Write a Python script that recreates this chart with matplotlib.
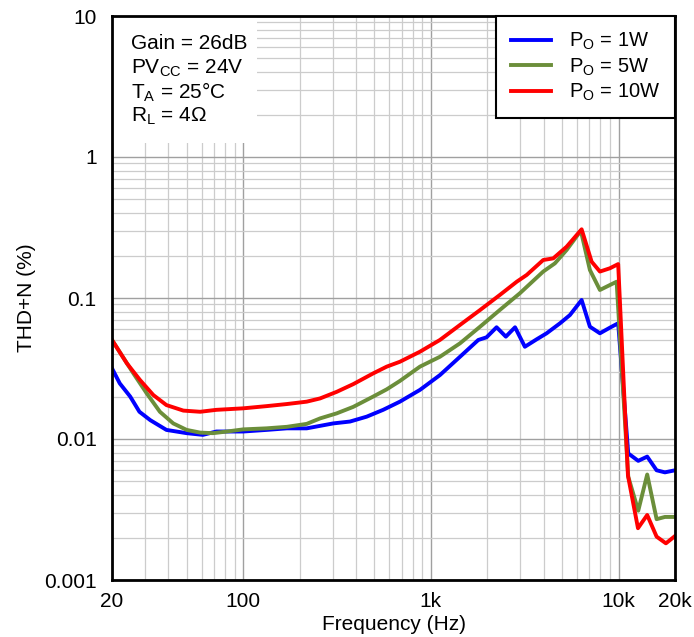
import matplotlib
matplotlib.use('Agg')
import matplotlib.pyplot as plt
import matplotlib.patches as patches

plt.rcParams['font.family'] = ['Liberation Sans', 'DejaVu Sans']
plt.rcParams['mathtext.fontset'] = 'custom'
plt.rcParams['mathtext.rm'] = 'Liberation Sans'

# Po = 1W
f_1w = [20, 22, 25, 28, 32, 39, 50, 61, 72, 100, 133, 171, 218, 302, 371, 455, 557, 684,
        875, 1118, 1430, 1790, 1980, 2240, 2510, 2810, 3170, 3660, 4140, 4880, 5510, 6360,
        7040, 7960, 9000, 9960, 11270, 12740, 14220, 15960, 17670, 20000]
thd_1w = [0.0317, 0.0248, 0.0200, 0.0156, 0.0136, 0.0116, 0.0110, 0.0107, 0.0113, 0.0113,
          0.0116, 0.0119, 0.0119, 0.0129, 0.0133, 0.0144, 0.0161, 0.0184, 0.0223, 0.0284,
          0.0383, 0.0504, 0.0526, 0.0620, 0.0532, 0.0620, 0.0451, 0.0509, 0.0562, 0.0662,
          0.0757, 0.0968, 0.0626, 0.0562, 0.0616, 0.0662, 0.0079, 0.0070, 0.0075, 0.0060,
          0.0058, 0.0060]

# Po = 5W
f_5w = [20, 26, 30.6, 36, 42.4, 50, 59, 69, 82, 100, 133, 171, 218, 257, 315, 386, 493, 582,
        684, 875, 1118, 1430, 1830, 2330, 2980, 3970, 4580, 5290, 6300, 7040, 7960, 9770,
        11270, 12740, 14220, 15960, 17670, 20000]
thd_5w = [0.0504, 0.0292, 0.0211, 0.0156, 0.0129, 0.0116, 0.0111, 0.0110, 0.0113, 0.0117,
          0.0119, 0.0122, 0.0128, 0.0140, 0.0152, 0.0169, 0.0200, 0.0225, 0.0258, 0.0326,
          0.0383, 0.0477, 0.0626, 0.0822, 0.108, 0.154, 0.176, 0.219, 0.300, 0.158, 0.114,
          0.1305, 0.0054, 0.0031, 0.0056, 0.0027, 0.0028, 0.0028]

# Po = 10W
f_10w = [20, 24, 28.2, 33.2, 39, 48, 59, 72, 100, 133, 171, 218, 257, 315, 386, 493, 582, 684,
         875, 1118, 1430, 1830, 2330, 2870, 3240, 3970, 4490, 5290, 6360, 7190, 7960, 9000,
         9960, 11230, 12700, 14220, 15960, 17890, 20000]
thd_10w = [0.0504, 0.0344, 0.0262, 0.0205, 0.0174, 0.0159, 0.0156, 0.0161, 0.0165, 0.0171,
           0.0177, 0.0184, 0.0194, 0.0216, 0.0245, 0.0292, 0.0326, 0.0353, 0.0416, 0.0504,
           0.0644, 0.0822, 0.105, 0.1305, 0.1456, 0.186, 0.191, 0.231, 0.307, 0.181, 0.154,
           0.1625, 0.174, 0.0055, 0.00233, 0.00289, 0.00203, 0.00182, 0.00205]

xticks = [20, 100, 1000, 10000, 20000]
xticklabels = ['20', '100', '1k', '10k', '20k']
yticks = [0.001, 0.01, 0.1, 1, 10]
yticklabels = ['0.001', '0.01', '0.1', '1', '10']

fig = plt.figure(figsize=(6.94, 6.37), dpi=100)
ax = fig.add_axes([112 / 694, 1 - 580 / 637, 563 / 694, 564 / 637])
ax.set_xscale('log')
ax.set_yscale('log')
ax.set_xlim(20, 20000)
ax.set_ylim(0.001, 10)

ax.grid(True, which='major', color='#a0a0a0', lw=1.0)
ax.grid(True, which='minor', color='#cccccc', lw=0.9)
ax.set_axisbelow(True)

# white area behind the conditions text
ax.add_patch(patches.Rectangle((0, 0.775), 0.2575, 0.225, transform=ax.transAxes,
                               facecolor='white', edgecolor='none', zorder=1))

ax.plot(f_1w, thd_1w, color='#0000ff', lw=2.8, label=r'P$_\mathregular{O}$ = 1W', zorder=3)
ax.plot(f_5w, thd_5w, color='#6b8e3a', lw=2.8, label=r'P$_\mathregular{O}$ = 5W', zorder=3)
ax.plot(f_10w, thd_10w, color='#ff0000', lw=2.8, label=r'P$_\mathregular{O}$ = 10W', zorder=3)

ax.set_xticks(xticks)
ax.set_xticklabels(xticklabels)
ax.set_yticks(yticks)
ax.set_yticklabels(yticklabels)
ax.tick_params(which='both', length=0, labelsize=15)
ax.tick_params(axis='x', pad=8.5)
ax.tick_params(axis='y', pad=11)
for s in ax.spines.values():
    s.set_linewidth(2)
    s.set_zorder(5)

ax.set_xlabel('Frequency (Hz)', fontsize=15, labelpad=3)
ax.set_ylabel('THD+N (%)', fontsize=15, labelpad=6)

notes = ['Gain = 26dB', r'PV$_\mathregular{CC}$ = 24V', r'T$_\mathregular{A}$ = 25°C',
         r'R$_\mathregular{L}$ = 4Ω']
for i, t in enumerate(notes):
    ax.text(0.033, 0.951 - i * 0.0428, t, transform=ax.transAxes, fontsize=15,
            va='center', ha='left', zorder=4)

leg = ax.legend(loc='upper right', borderaxespad=0, fancybox=False, fontsize=14.5,
                handlelength=2.0, handletextpad=0.85, borderpad=0.75, labelspacing=0.2,
                framealpha=1)
leg.get_frame().set_edgecolor('black')
leg.get_frame().set_linewidth(1.5)
leg.set_zorder(6)

fig.savefig('out.png', dpi=100)
